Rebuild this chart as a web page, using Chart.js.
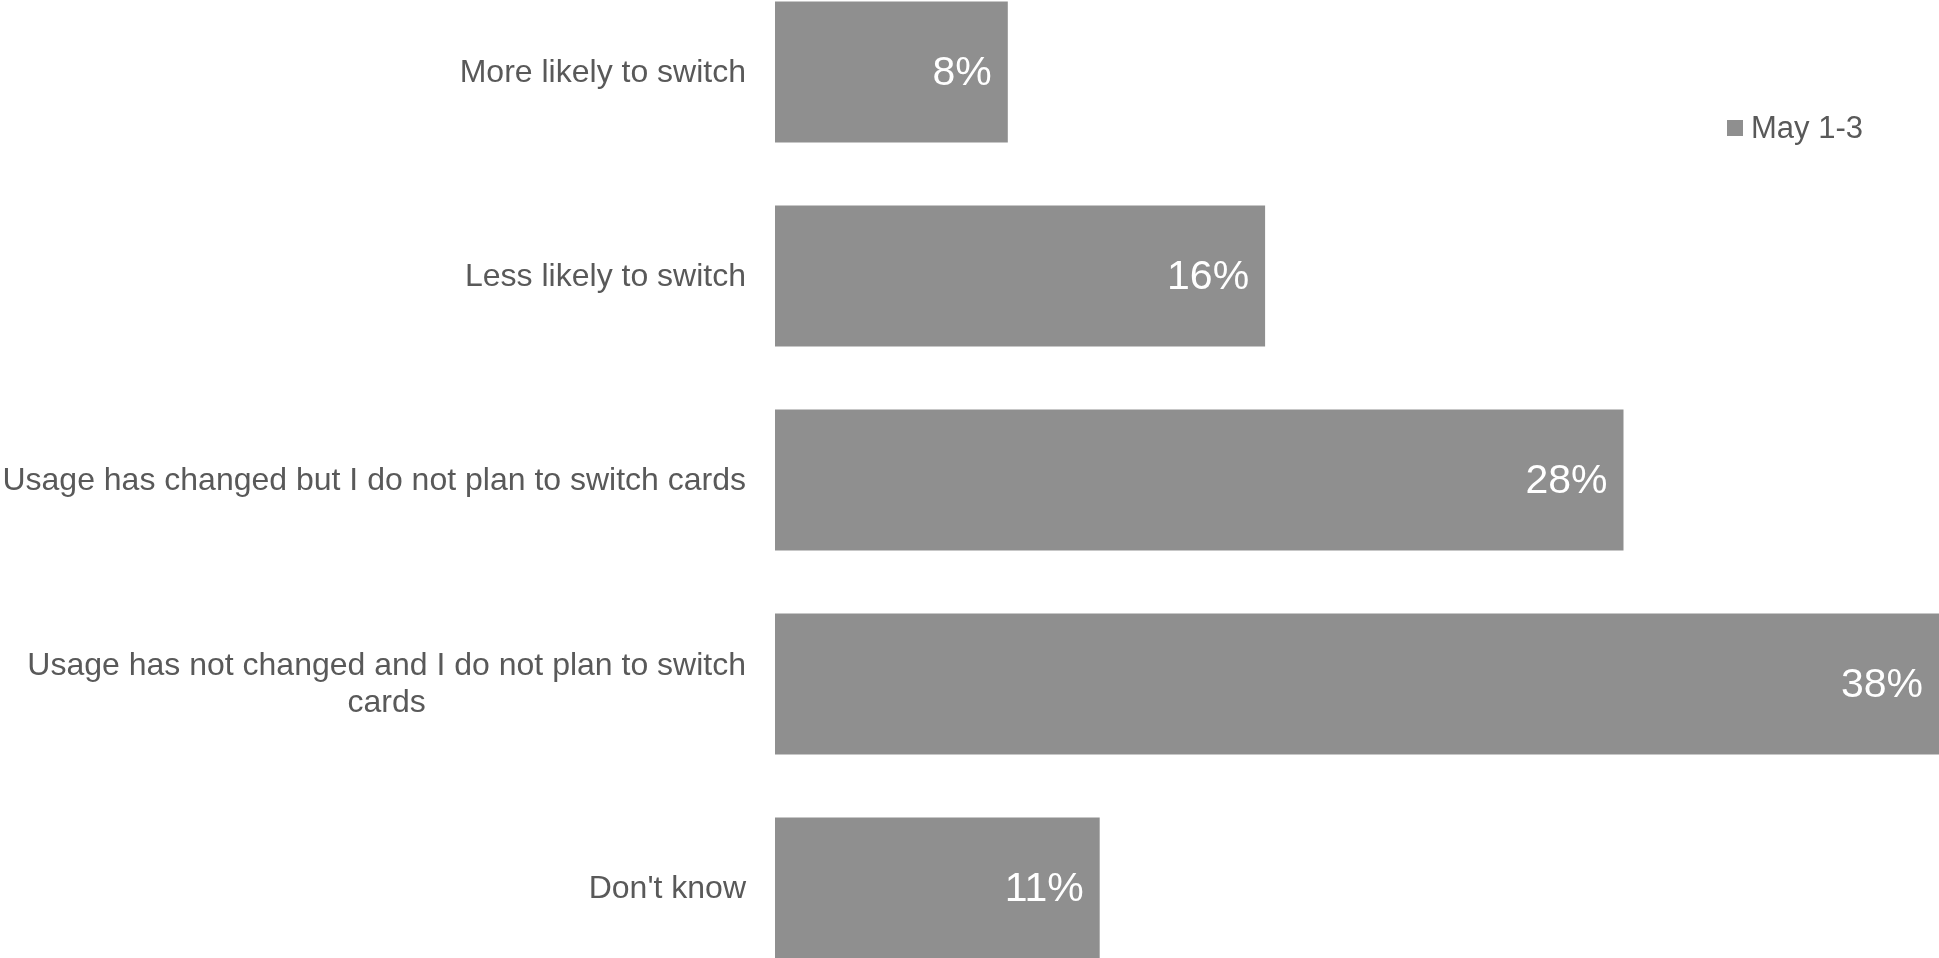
<!DOCTYPE html>
<html>
<head>
<meta charset="utf-8">
<script src="https://cdn.jsdelivr.net/npm/chart.js@4/dist/chart.umd.min.js"></script>
<style>
  html, body { margin: 0; padding: 0; background: #fff; overflow: hidden; }
  /* plot area runs a little past the top and bottom of the window, like the source crop */
  #wrap { position: absolute; left: 0; top: -30px; width: 1939px; height: 1020px; }
</style>
</head>
<body>
<div id="wrap"><canvas id="chart"></canvas></div>
<script>
const categories = [
  ['More likely to switch'],
  ['Less likely to switch'],
  ['Usage has changed but I do not plan to switch cards'],
  ['Usage has not changed and I do not plan to switch', 'cards'],
  ["Don't know"]
];
const seriesName = 'May 1-3';
const values = [7.6, 16.0, 27.7, 38.0, 10.6];

const BAR = '#8f8f8f';
const TEXT = '#595959';
const FONT = '"Liberation Sans", Arial, sans-serif';

// category labels: block is right aligned, wrapped lines centred inside it
const catLabels = {
  id: 'catLabels',
  afterDraw(chart) {
    const { ctx, chartArea, scales } = chart;
    ctx.save();
    ctx.font = '32px ' + FONT;
    ctx.fillStyle = TEXT;
    ctx.textAlign = 'center';
    ctx.textBaseline = 'middle';
    const right = chartArea.left - 29;
    const lh = 37;
    categories.forEach((lines, i) => {
      const y = scales.y.getPixelForValue(i);
      const w = Math.max(...lines.map(l => ctx.measureText(l).width));
      const cx = right - w / 2;
      lines.forEach((l, j) => {
        ctx.fillText(l, cx, y + 1 + (j - (lines.length - 1) / 2) * lh);
      });
    });
    ctx.restore();
  }
};

// value labels inside the bar ends
const valueLabels = {
  id: 'valueLabels',
  afterDatasetsDraw(chart) {
    const { ctx } = chart;
    const meta = chart.getDatasetMeta(0);
    ctx.save();
    ctx.font = '41px ' + FONT;
    ctx.fillStyle = '#ffffff';
    ctx.textAlign = 'right';
    ctx.textBaseline = 'middle';
    meta.data.forEach((bar, i) => {
      const x = Math.min(bar.x, chart.chartArea.right);
      ctx.fillText(Math.round(values[i]) + '%', x - 16, bar.y + 2);
    });
    ctx.restore();
  }
};

// small legend at top right
const miniLegend = {
  id: 'miniLegend',
  afterDraw(chart) {
    const { ctx } = chart;
    const ds = chart.data.datasets[0];
    ctx.save();
    ctx.fillStyle = ds.backgroundColor;
    ctx.fillRect(1727, 150, 16, 16);
    ctx.font = '31px ' + FONT;
    ctx.fillStyle = TEXT;
    ctx.textAlign = 'left';
    ctx.textBaseline = 'middle';
    ctx.fillText(ds.label, 1751, 159);
    ctx.restore();
  }
};

new Chart(document.getElementById('chart'), {
  type: 'bar',
  data: {
    labels: categories,
    datasets: [{
      label: seriesName,
      data: values,
      backgroundColor: BAR,
      borderWidth: 0,
      categoryPercentage: 1.0,
      barPercentage: 0.69
    }]
  },
  options: {
    indexAxis: 'y',
    responsive: true,
    maintainAspectRatio: false,
    animation: false,
    layout: { padding: { left: 775, right: 0, top: 0, bottom: 0 } },
    plugins: {
      legend: { display: false },
      tooltip: { enabled: false }
    },
    scales: {
      x: { display: false, min: 0, max: 38 },
      y: { display: false, grid: { display: false } }
    }
  },
  plugins: [catLabels, valueLabels, miniLegend]
});
</script>
</body>
</html>
